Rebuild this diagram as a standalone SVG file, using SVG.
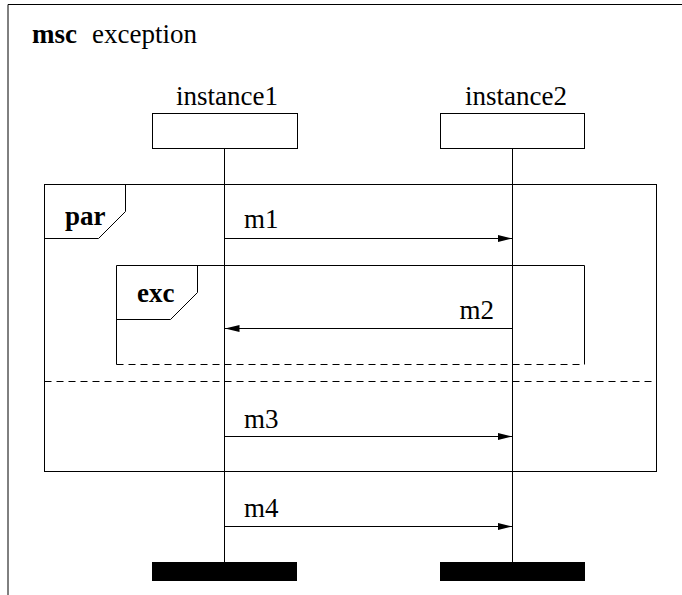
<svg xmlns="http://www.w3.org/2000/svg" width="682" height="595" viewBox="0 0 682 595">
<defs>
<style>
.ln{stroke:#000;stroke-width:1;fill:none}
.box{stroke:#000;stroke-width:1;fill:#fff}
text{font-family:"Liberation Serif","Times New Roman",serif;font-size:27px;fill:#000}
.b{font-weight:bold}
.dash{stroke:#000;stroke-width:1;fill:none;stroke-dasharray:7,5}
.bar{fill:#000}
</style>
<marker id="ah" viewBox="0 0 15 7" refX="15" refY="3.5" markerWidth="15" markerHeight="7" markerUnits="userSpaceOnUse" orient="auto">
<path d="M0,0 L15,3.5 L0,7 Z" fill="#000"/>
</marker>
</defs>
<rect width="682" height="595" fill="#fff"/>
<g id="frame">
<path class="ln" d="M8,600 V4.5 H690" stroke-width="1.5"/>
<text x="32" y="43" font-family="Liberation Serif, serif"><tspan class="b">msc</tspan><tspan x="92">exception</tspan></text>
</g>
<g id="par">
<rect class="ln" x="44.5" y="184.5" width="612" height="287"/>
<path class="ln" d="M125.5,184.5 V211.5 L98.5,238.5 H44.5"/>
<text class="b" x="65" y="225" font-family="Liberation Serif, serif">par</text>
<line class="dash" x1="44.5" y1="381.5" x2="656.5" y2="381.5"/>
</g>
<g id="exc">
<path class="ln" d="M116.5,364.5 V265.5 H584.5 V364.5"/>
<line class="dash" x1="116.5" y1="364.5" x2="584.5" y2="364.5"/>
<path class="ln" d="M197.5,265.5 V292.5 L170.5,319.5 H116.5"/>
<text class="b" x="137" y="302" font-family="Liberation Serif, serif">exc</text>
</g>
<g id="instance1">
<text x="227" y="105" text-anchor="middle" font-family="Liberation Serif, serif">instance1</text>
<rect class="box" x="152.5" y="113.5" width="145" height="35"/>
<line class="ln" x1="224.5" y1="148.5" x2="224.5" y2="563"/>
<rect class="bar" x="152" y="562" width="145" height="19"/>
</g>
<g id="instance2">
<text x="516" y="105" text-anchor="middle" font-family="Liberation Serif, serif">instance2</text>
<rect class="box" x="440.5" y="113.5" width="144" height="35"/>
<line class="ln" x1="512.5" y1="148.5" x2="512.5" y2="563"/>
<rect class="bar" x="440" y="562" width="145" height="19"/>
</g>
<g id="connectors">
<line class="ln" x1="224.5" y1="238.5" x2="512.5" y2="238.5" marker-end="url(#ah)"/>
<text x="244" y="228" font-family="Liberation Serif, serif">m1</text>
<line class="ln" x1="512.5" y1="328.5" x2="224.5" y2="328.5" marker-end="url(#ah)"/>
<text x="494" y="319" text-anchor="end" font-family="Liberation Serif, serif">m2</text>
<line class="ln" x1="224.5" y1="436.5" x2="512.5" y2="436.5" marker-end="url(#ah)"/>
<text x="244" y="428" font-family="Liberation Serif, serif">m3</text>
<line class="ln" x1="224.5" y1="526.5" x2="512.5" y2="526.5" marker-end="url(#ah)"/>
<text x="244" y="517" font-family="Liberation Serif, serif">m4</text>
</g>
</svg>
